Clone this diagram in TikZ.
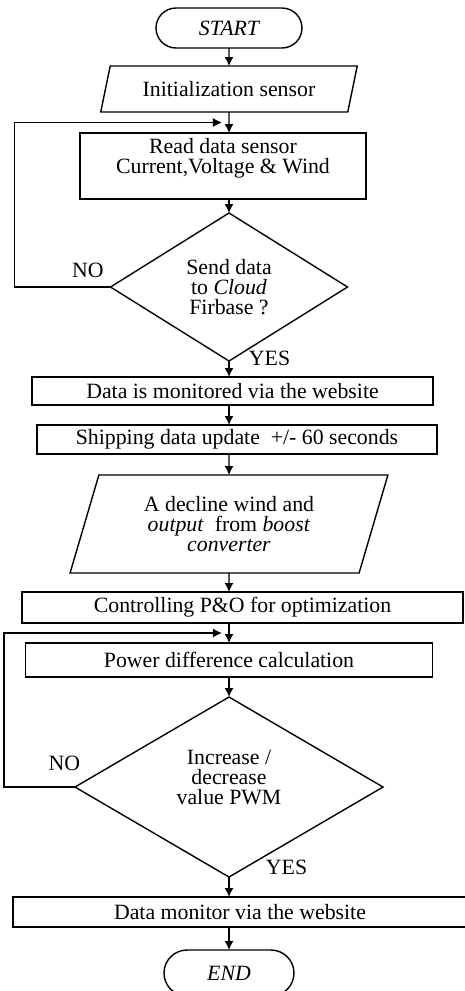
\documentclass[tikz,border=0pt]{standalone}
\usepackage{fontspec}
\setmainfont{Liberation Serif}
\usetikzlibrary{arrows.meta, positioning, shapes.geometric, calc}

\begin{document}
\begin{tikzpicture}[
        line width=0.7pt,
        every node/.style={font=\fontsize{10.9}{10}\selectfont, outer sep=0pt},
        term/.style={rectangle, draw, rounded corners=10pt, minimum width=73pt, minimum height=20pt, font=\fontsize{10.9}{10}\selectfont\itshape},
        box/.style={rectangle, draw, align=center, inner sep=1pt},
        io/.style={trapezium, trapezium left angle=70, trapezium right angle=110, trapezium stretches=true, draw, align=center, inner sep=1pt},
        decision/.style={diamond, draw, align=center, inner sep=0pt},
        lbl/.style={inner sep=0pt},
        line/.style={-{Latex[length=4.5pt,width=4.5pt]}}
    ]
    \useasboundingbox (-114.5pt,14pt) rectangle (118pt,-481.5pt);
    \coordinate (axis) at (0,0);
    \node [term] (start) at (axis) {START};
    \node [io, below=9pt of start, minimum width=129.5pt, minimum height=23pt] (init) {Initialization sensor};
    \node [box, below=10.5pt of init, xshift=-3pt, minimum width=143pt, minimum height=33pt] (read) {Read data sensor\\Current,Voltage \& Wind\\~};
    \node [decision, below=7pt of read, xshift=3pt, minimum width=118.5pt, minimum height=74pt, shape aspect=1.6] (send) {Send data\\to \textit{Cloud}\\Firbase ?};
    \node [box, below=8pt of send, xshift=1.75pt, minimum width=200.5pt, minimum height=14pt] (monitor) {Data is monitored via the website};
    \node [box, below=10pt of monitor, xshift=2.25pt, minimum width=200pt, minimum height=14.5pt] (ship) {Shipping data update~ +/- 60 seconds};
    \node [io, below=10.5pt of ship, xshift=-4pt, minimum width=159pt, minimum height=49pt, trapezium left angle=72, trapezium right angle=108] (decline) {A decline wind and\\\textit{output}~ from \textit{boost}\\\textit{converter}};
    \node [box, below=9.5pt of decline, xshift=6.75pt, minimum width=220.5pt, minimum height=15.5pt] (control) {Controlling P\&O for optimization};
    \node [box, below=10pt of control, xshift=-6.75pt, minimum width=203.5pt, minimum height=17pt] (power) {Power difference calculation};
    \node [decision, below=10pt of power, minimum width=154pt, minimum height=90pt, shape aspect=1.7] (pwm) {Increase /\\decrease\\value PWM\\~};
    \node [box, below=10pt of pwm, xshift=5.5pt, minimum width=227pt, minimum height=15pt] (webmon) {Data monitor via the website};
    \node [term, below=11.5pt of webmon, xshift=-5.5pt, minimum width=65pt, minimum height=23pt, rounded corners=11.5pt] (end) {END};

    \draw[line] (start) -- (init);
    \draw[line] (init) -- (init |- read.north);
    \draw[line] (read.south -| axis) -- (send);
    \draw[line] (send) -- (send |- monitor.north);
    \draw[line] (monitor.south -| axis) -- (axis |- ship.north);
    \draw[line] (ship.south -| axis) -- (decline);
    \draw[line] (decline) -- (decline |- control.north);
    \draw[line] (control.south -| axis) -- (power);
    \draw[line] (power) -- (pwm);
    \draw[line] (pwm) -- (pwm |- webmon.north);
    \draw[line] (webmon.south -| axis) -- (end);

    % loops back on NO
    \coordinate (join1) at ($(init.south)!0.5!(init.south |- read.north)$);
    \coordinate (join2) at ($(control.south -| axis)!0.5!(power.north)$);
    \draw[line] (send.west) -- ++(-48pt,0) |- ([xshift=-3.5pt]join1);
    \draw[line] (pwm.west) -- ++(-35.5pt,0) |- ([xshift=-3.5pt]join2);

    \node [lbl, anchor=east] (no1) at ([xshift=-3.5pt,yshift=8.5pt]send.west) {NO};
    \node [lbl, anchor=west] (yes1) at ([xshift=10pt,yshift=1.5pt]send.south) {YES};
    \node [lbl, anchor=east] (no2) at ([xshift=2.5pt,yshift=12pt]pwm.west) {NO};
    \node [lbl, anchor=west] (yes2) at ([xshift=18.5pt,yshift=5pt]pwm.south) {YES};
\end{tikzpicture}
\end{document}
